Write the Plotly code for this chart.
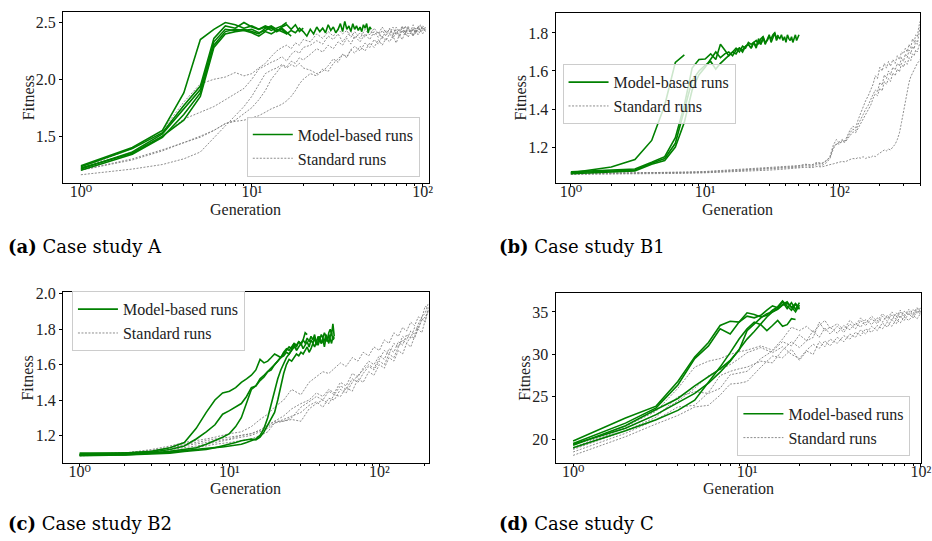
import plotly.graph_objects as go

# ---------------- Case study A ----------------
A_STD_GEN = [1, 2, 3, 4, 5, 6, 7, 8, 9, 10, 11, 12, 13, 14, 15, 16, 17, 18, 19, 20,
             22, 24, 26, 28, 30, 32, 34, 36, 38, 40,
             43, 46, 49, 52, 55, 58, 61, 64, 67, 70, 73, 76, 79, 82, 85, 88, 91, 94, 97, 100, 104]
A_STD = [
    [1.22, 1.39, 1.55, 1.80, 1.96, 2.00, 2.02, 2.06, 2.03, 2.05, 2.10, 2.14, 2.20, 2.25, 2.28, 2.30, 2.27, 2.32, 2.30, 2.35,
     2.33, 2.40, 2.36, 2.42, 2.38, 2.44, 2.40, 2.43, 2.37, 2.42,
     2.36, 2.44, 2.39, 2.45, 2.40, 2.46, 2.41, 2.44, 2.38, 2.46, 2.42, 2.47, 2.40, 2.45, 2.42, 2.48, 2.41, 2.46, 2.43, 2.47, 2.44],
    [1.21, 1.36, 1.50, 1.65, 1.71, 1.76, 1.82, 1.87, 1.92, 2.00, 2.09, 2.12, 2.15, 2.17, 2.20, 2.16, 2.22, 2.25, 2.23, 2.28,
     2.30, 2.34, 2.31, 2.38, 2.35, 2.40, 2.33, 2.38, 2.42, 2.36,
     2.41, 2.37, 2.44, 2.39, 2.42, 2.36, 2.43, 2.40, 2.46, 2.39, 2.44, 2.41, 2.47, 2.40, 2.44, 2.38, 2.45, 2.42, 2.48, 2.43, 2.46],
    [1.20, 1.29, 1.37, 1.44, 1.50, 1.55, 1.61, 1.64, 1.70, 1.75, 1.82, 1.90, 2.00, 2.06, 2.12, 2.10, 2.13, 2.11, 2.14, 2.10,
     2.08, 2.05, 2.07, 2.12, 2.18, 2.15, 2.22, 2.19, 2.26, 2.23,
     2.29, 2.25, 2.32, 2.28, 2.35, 2.30, 2.36, 2.33, 2.38, 2.32, 2.39, 2.35, 2.42, 2.37, 2.41, 2.38, 2.44, 2.39, 2.43, 2.40, 2.45],
    [1.16, 1.21, 1.25, 1.30, 1.36, 1.48, 1.59, 1.68, 1.76, 1.85, 1.95, 2.05, 2.08, 2.10, 2.13, 2.11, 2.16, 2.14, 2.19, 2.17,
     2.22, 2.27, 2.24, 2.30, 2.27, 2.33, 2.30, 2.36, 2.31, 2.38,
     2.33, 2.40, 2.35, 2.42, 2.37, 2.43, 2.38, 2.45, 2.40, 2.44, 2.39, 2.46, 2.41, 2.47, 2.42, 2.45, 2.40, 2.47, 2.43, 2.46, 2.42],
    [1.20, 1.30, 1.38, 1.44, 1.49, 1.55, 1.61, 1.63, 1.64, 1.66, 1.68, 1.71, 1.74, 1.76, 1.78, 1.81, 1.85, 1.90, 1.96, 2.00,
     2.05, 2.03, 2.09, 2.07, 2.14, 2.18, 2.22, 2.20, 2.26, 2.29,
     2.25, 2.32, 2.28, 2.35, 2.31, 2.38, 2.34, 2.40, 2.36, 2.42, 2.37, 2.43, 2.39, 2.45, 2.40, 2.44, 2.41, 2.46, 2.42, 2.45, 2.43],
]
# model-based runs: one value per generation, starting at generation 1
A_MODEL = [
    [1.24, 1.40, 1.55, 1.88, 2.35, 2.44, 2.50, 2.48, 2.45, 2.47, 2.44, 2.46, 2.43, 2.45, 2.47, 2.50],
    [1.23, 1.39, 1.53, 1.77, 1.94, 2.36, 2.47, 2.45, 2.50, 2.46, 2.44, 2.47, 2.45, 2.42, 2.46, 2.48, 2.44, 2.48, 2.42, 2.45],
    [1.21, 1.36, 1.52, 1.74, 1.91, 2.33, 2.44, 2.43, 2.44, 2.42, 2.40, 2.45, 2.47, 2.44, 2.42, 2.40],
    [1.20, 1.34, 1.49, 1.69, 1.88, 2.30, 2.42, 2.44, 2.43, 2.41, 2.38, 2.42, 2.40, 2.43, 2.45, 2.41, 2.38],
    [1.22, 1.35, 1.50, 1.64, 1.85, 2.28, 2.40, 2.42, 2.43, 2.44, 2.41, 2.43, 2.46, 2.42, 2.44, 2.40, 2.43, 2.41, 2.45, 2.42,
     2.38, 2.44, 2.40, 2.46, 2.42, 2.45, 2.41, 2.48, 2.43, 2.46, 2.41, 2.44, 2.49, 2.42, 2.51, 2.44, 2.47, 2.42, 2.49, 2.44,
     2.47, 2.43, 2.46, 2.42, 2.48, 2.45, 2.49, 2.41, 2.46, 2.44],
]

# ---------------- Case study B1 ----------------
B1_STD_GEN = [1, 2, 3, 5, 7, 10, 14, 20, 28, 35, 42, 50, 56, 62, 68, 74, 80, 85, 90, 95,
              100, 105, 110, 115, 120, 126, 132, 138, 144, 150, 157, 164, 171, 178, 185, 192, 200, 208, 216, 224,
              232, 240, 250, 260, 270, 280, 290, 300, 310, 320, 330, 340, 350, 360, 370, 380, 390, 398]
B1_STD = [
    [1.060, 1.062, 1.063, 1.065, 1.066, 1.070, 1.075, 1.080, 1.088, 1.092,
     1.097, 1.100, 1.108, 1.104, 1.115, 1.112, 1.130, 1.145, 1.200, 1.215,
     1.225, 1.240, 1.232, 1.265, 1.290, 1.310, 1.300, 1.345, 1.380, 1.410,
     1.445, 1.470, 1.500, 1.530, 1.575, 1.560, 1.620, 1.600, 1.640, 1.615,
     1.650, 1.625, 1.660, 1.640, 1.680, 1.660, 1.700, 1.690, 1.720, 1.700,
     1.740, 1.720, 1.770, 1.750, 1.790, 1.780, 1.830, 1.860],
    [1.058, 1.060, 1.061, 1.062, 1.064, 1.067, 1.072, 1.078, 1.083, 1.088,
     1.092, 1.095, 1.102, 1.098, 1.108, 1.104, 1.118, 1.140, 1.190, 1.220,
     1.215, 1.235, 1.228, 1.255, 1.275, 1.295, 1.285, 1.320, 1.350, 1.370,
     1.400, 1.420, 1.450, 1.480, 1.500, 1.490, 1.540, 1.525, 1.580, 1.560,
     1.600, 1.580, 1.620, 1.605, 1.640, 1.625, 1.670, 1.650, 1.690, 1.670,
     1.710, 1.690, 1.730, 1.715, 1.760, 1.740, 1.800, 1.830],
    [1.062, 1.063, 1.064, 1.066, 1.068, 1.072, 1.078, 1.085, 1.090, 1.094,
     1.098, 1.103, 1.110, 1.106, 1.120, 1.115, 1.128, 1.150, 1.210, 1.240,
     1.220, 1.230, 1.225, 1.245, 1.265, 1.280, 1.275, 1.300, 1.325, 1.345,
     1.375, 1.400, 1.420, 1.455, 1.480, 1.470, 1.510, 1.495, 1.545, 1.530,
     1.560, 1.545, 1.590, 1.575, 1.610, 1.595, 1.640, 1.620, 1.650, 1.635,
     1.670, 1.655, 1.690, 1.680, 1.710, 1.700, 1.730, 1.750],
    [1.057, 1.058, 1.059, 1.060, 1.062, 1.065, 1.068, 1.072, 1.078, 1.082,
     1.086, 1.090, 1.094, 1.092, 1.098, 1.096, 1.104, 1.108, 1.112, 1.116,
     1.120, 1.125, 1.122, 1.130, 1.135, 1.140, 1.138, 1.145, 1.142, 1.150,
     1.140, 1.148, 1.145, 1.155, 1.150, 1.160, 1.170, 1.175, 1.185, 1.180,
     1.190, 1.185, 1.200, 1.215, 1.240, 1.275, 1.330, 1.390, 1.450, 1.500,
     1.540, 1.570, 1.590, 1.610, 1.620, 1.640, 1.650, 1.660],
]
B1_MODEL = [
    [1.065, 1.095, 1.135, 1.235, 1.420, 1.645, 1.685],
    [1.070, 1.080, 1.085, 1.120, 1.150, 1.250, 1.420, 1.615, 1.660, 1.663, 1.690, 1.660, 1.740, 1.710, 1.680, 1.700, 1.720,
     1.700, 1.730, 1.720, 1.750, 1.740, 1.750, 1.720, 1.770, 1.740, 1.780, 1.740, 1.770, 1.790, 1.750, 1.780, 1.800, 1.760,
     1.780, 1.770, 1.790, 1.760, 1.780, 1.750, 1.790, 1.770, 1.760, 1.780, 1.750, 1.770, 1.790, 1.760, 1.780, 1.790],
    [1.065, 1.075, 1.080, 1.115, 1.140, 1.220, 1.400, 1.550, 1.600, 1.630, 1.650, 1.610, 1.640, 1.660, 1.680, 1.700, 1.690,
     1.720, 1.710, 1.730, 1.740, 1.720, 1.750, 1.760, 1.740, 1.770, 1.780, 1.750, 1.760, 1.780, 1.770, 1.790, 1.800, 1.770,
     1.790],
    [1.060, 1.070, 1.075, 1.110, 1.130, 1.200, 1.330, 1.500, 1.580, 1.620, 1.660, 1.700, 1.670, 1.690, 1.700, 1.680, 1.710,
     1.720, 1.700, 1.730, 1.740, 1.720, 1.750, 1.730, 1.760, 1.740, 1.770, 1.750],
]

# ---------------- Case study B2 ----------------
B2_STD_GEN = [1, 2, 3, 4, 5, 6, 7, 8, 10, 12, 14, 16, 18, 20, 23, 26, 30, 34, 38, 42, 46, 50,
              55, 60, 66, 72, 78, 85, 92, 100, 108, 116, 125, 134, 143, 152, 162, 172, 182, 192, 202, 213]
B2_STD = [
    [1.09, 1.10, 1.12, 1.14, 1.16, 1.17, 1.18, 1.19, 1.21, 1.22, 1.25, 1.29, 1.32, 1.36,
     1.40, 1.46, 1.43, 1.50, 1.53, 1.56, 1.55, 1.58, 1.61, 1.59, 1.64, 1.62, 1.67, 1.65, 1.70, 1.68,
     1.74, 1.72, 1.78, 1.76, 1.81, 1.79, 1.84, 1.82, 1.87, 1.86, 1.93, 1.92],
    [1.09, 1.10, 1.11, 1.13, 1.15, 1.16, 1.17, 1.18, 1.19, 1.20, 1.21, 1.23, 1.26, 1.28,
     1.31, 1.35, 1.38, 1.40, 1.44, 1.42, 1.46, 1.44, 1.50, 1.48, 1.55, 1.53, 1.58, 1.62, 1.60, 1.65,
     1.63, 1.69, 1.67, 1.73, 1.71, 1.77, 1.75, 1.81, 1.80, 1.86, 1.84, 1.93],
    [1.085, 1.095, 1.105, 1.12, 1.13, 1.14, 1.15, 1.16, 1.18, 1.19, 1.20, 1.22, 1.24, 1.27,
     1.29, 1.31, 1.33, 1.37, 1.39, 1.36, 1.41, 1.40, 1.46, 1.44, 1.50, 1.54, 1.57, 1.60, 1.58, 1.63,
     1.68, 1.66, 1.72, 1.70, 1.76, 1.74, 1.79, 1.77, 1.83, 1.87, 1.89, 1.95],
    [1.085, 1.09, 1.10, 1.11, 1.12, 1.13, 1.14, 1.15, 1.16, 1.17, 1.18, 1.20, 1.22, 1.27,
     1.28, 1.29, 1.28, 1.35, 1.38, 1.40, 1.38, 1.43, 1.42, 1.47, 1.45, 1.52, 1.50, 1.56, 1.54, 1.60,
     1.58, 1.64, 1.62, 1.68, 1.66, 1.72, 1.70, 1.76, 1.80, 1.78, 1.85, 1.91],
    [1.09, 1.10, 1.115, 1.13, 1.14, 1.15, 1.16, 1.17, 1.18, 1.20, 1.21, 1.23, 1.25, 1.28,
     1.28, 1.30, 1.36, 1.39, 1.42, 1.40, 1.45, 1.43, 1.48, 1.46, 1.52, 1.50, 1.55, 1.59, 1.57, 1.62,
     1.60, 1.66, 1.64, 1.70, 1.74, 1.72, 1.76, 1.75, 1.81, 1.85, 1.87, 1.90],
]
B2_MODEL = [
    [1.10, 1.10, 1.11, 1.13, 1.16, 1.24, 1.33, 1.40, 1.44, 1.45, 1.47, 1.50, 1.52, 1.54, 1.57, 1.63, 1.61, 1.62, 1.64,
     1.66, 1.65, 1.64, 1.67, 1.69, 1.68, 1.70, 1.72, 1.71, 1.73, 1.72, 1.74, 1.78, 1.77],
    [1.095, 1.10, 1.105, 1.12, 1.14, 1.18, 1.22, 1.26, 1.32, 1.34, 1.36, 1.38, 1.42, 1.47, 1.48, 1.52, 1.54, 1.56, 1.58,
     1.60, 1.62, 1.64, 1.66, 1.68, 1.70, 1.69, 1.72, 1.70, 1.73, 1.71, 1.74, 1.72, 1.75, 1.73, 1.76, 1.74, 1.77, 1.72,
     1.76, 1.74, 1.77, 1.75, 1.78, 1.76, 1.74, 1.78, 1.80, 1.77, 1.83, 1.76],
    [1.09, 1.095, 1.10, 1.11, 1.12, 1.13, 1.15, 1.17, 1.19, 1.21, 1.25, 1.30, 1.38, 1.46, 1.48, 1.51, 1.53, 1.56, 1.57,
     1.60, 1.62, 1.64, 1.65, 1.67, 1.66, 1.69, 1.71, 1.68, 1.70, 1.72, 1.69, 1.71, 1.73, 1.70, 1.74, 1.72, 1.75, 1.71,
     1.73, 1.76, 1.72, 1.74, 1.70, 1.75, 1.73, 1.77, 1.74, 1.72, 1.76, 1.75],
    [1.09, 1.09, 1.095, 1.10, 1.11, 1.115, 1.12, 1.13, 1.14, 1.15, 1.16, 1.17, 1.175, 1.18, 1.175, 1.19, 1.22, 1.26, 1.30,
     1.33, 1.40, 1.48, 1.55, 1.60, 1.63, 1.62, 1.64, 1.66, 1.65, 1.67, 1.66, 1.68, 1.70, 1.67, 1.69, 1.72, 1.70, 1.73,
     1.71, 1.74, 1.72, 1.75, 1.73, 1.77, 1.74, 1.72, 1.76, 1.78, 1.74, 1.75],
    [1.085, 1.09, 1.10, 1.105, 1.115, 1.12, 1.125, 1.13, 1.135, 1.14, 1.145, 1.15, 1.16, 1.17, 1.18, 1.20, 1.24, 1.30,
     1.38, 1.45, 1.52, 1.57, 1.61, 1.64, 1.66, 1.68, 1.70, 1.69],
]

# ---------------- Case study C ----------------
C_STD_GEN = [1, 2, 3, 4, 5, 6, 7, 8, 9, 10, 12, 14, 16, 18, 20, 22, 24, 26, 28, 30,
             33, 36, 39, 42, 45, 48, 52, 56, 60, 64, 68, 72, 76, 80, 85, 90, 95, 100]
C_STD = [
    [19.0, 21.5, 23.3, 26.0, 28.5, 29.2, 29.5, 30.0, 30.3, 30.5, 31.0, 30.5, 31.8, 33.2, 32.8, 33.3, 32.6, 33.4, 34.0, 33.1,
     33.6, 32.9, 34.0, 33.4, 34.3, 33.7, 34.5, 33.9, 34.8, 34.2, 35.0, 34.4, 35.2, 34.6, 35.3, 34.8, 35.5, 35.0],
    [18.8, 21.0, 22.6, 25.0, 25.6, 25.4, 26.0, 27.6, 27.8, 28.0, 29.5, 30.4, 31.5, 31.0, 32.3, 31.6, 32.8, 32.0, 33.1, 32.4,
     33.3, 32.6, 33.6, 33.0, 34.0, 33.4, 34.2, 33.6, 34.5, 33.9, 34.7, 34.1, 35.0, 34.4, 35.1, 34.6, 35.4, 34.9],
    [18.5, 20.7, 22.3, 23.8, 24.0, 25.5, 27.5, 28.0, 28.3, 28.5, 29.2, 29.0, 30.5, 31.5, 30.8, 31.6, 32.0, 33.8, 32.8, 33.2,
     32.5, 33.4, 32.9, 33.7, 33.2, 34.1, 33.5, 34.3, 33.8, 34.6, 34.0, 34.9, 34.3, 35.1, 34.6, 35.3, 34.8, 35.6],
    [18.1, 20.3, 21.8, 22.8, 23.8, 24.0, 25.2, 26.5, 26.6, 26.8, 28.5, 29.8, 29.6, 30.6, 29.3, 30.4, 30.0, 31.5, 30.9, 31.8,
     31.3, 32.2, 31.8, 32.6, 32.2, 33.0, 32.6, 33.4, 33.0, 33.8, 33.3, 34.1, 33.7, 34.4, 34.0, 34.6, 34.2, 34.9],
    [18.9, 21.3, 22.9, 24.5, 26.0, 27.5, 28.2, 28.8, 29.5, 30.2, 30.8, 30.2, 30.9, 30.0, 29.5, 30.5, 31.2, 30.7, 31.6, 31.0,
     32.0, 31.5, 32.4, 32.0, 32.9, 32.4, 33.3, 32.8, 33.7, 33.2, 34.1, 33.6, 34.5, 34.0, 34.8, 34.3, 35.1, 34.7],
]
C_MODEL = [
    [19.8, 22.5, 23.9, 26.8, 29.7, 31.4, 33.4, 33.9, 33.8, 34.9, 34.7, 34.4, 34.6, 35.2, 35.6, 36.3, 35.7, 35.2, 35.9, 35.3],
    [19.5, 21.9, 23.7, 26.4, 29.5, 31.0, 33.0, 32.4, 33.8, 34.5, 34.3, 34.6, 35.2, 35.7, 35.5, 36.2, 35.4, 36.1, 35.3, 36.1],
    [19.3, 21.6, 23.5, 24.8, 26.3, 27.4, 28.3, 29.3, 30.5, 32.8, 33.6, 34.3, 34.8, 35.0, 35.3, 35.8, 36.0, 35.6, 35.0, 35.8],
    [19.0, 21.0, 22.3, 23.4, 24.6, 26.7, 28.5, 30.2, 31.8, 33.0, 33.8, 33.5, 32.8, 33.4, 34.0, 33.3, 33.5, 34.2, 34.1],
    [19.4, 21.3, 22.9, 24.3, 25.4, 26.6, 27.9, 29.2, 30.5, 31.8, 32.7, 33.6, 34.4, 35.0, 35.4, 35.9, 36.2, 35.5, 36.0, 35.4],
]

Y_TICKS = [[1.5, 2.0, 2.5], [1.2, 1.4, 1.6, 1.8], [1.2, 1.4, 1.6, 1.8, 2.0], [20, 25, 30, 35]]
X_TICKS = [1, 10, 100]
X_TICKTEXT = ["10⁰", "10¹", "10²"]
CAPTIONS = [("(a)", "Case study A"), ("(b)", "Case study B1"), ("(c)", "Case study B2"), ("(d)", "Case study C")]
X_TITLE = "Generation"
Y_TITLE = "Fitness"

W, H = 932, 541
# the photographed page comes out ~1% narrower than the figure, so horizontal pixel targets are stretched back
SX = 0.989
SERIF = "Liberation Serif, DejaVu Serif, serif"
CAPFONT = "DejaVu Serif, serif"
GREEN = "#008000"
GRAY = "#808080"
INK = "#222222"


def fx(px):
    return min(px / (W * SX), 1.0)


def fy(py):
    return 1 - py / H


# pixel boxes (left, right, top, bottom) of each panel, measured on the target picture
panels = [
    dict(model=A_MODEL, gen=A_STD_GEN, std=A_STD, box=(63, 429, 5, 178), xr=[-0.105, 2.035], yr=[1.09, 2.593],
         yfmt="{:.1f}", leg=(247, 111), cap=(6, 243), ytx=28, xty=205),
    dict(model=B1_MODEL, gen=B1_STD_GEN, std=B1_STD, box=(556, 921, 6, 178), xr=[-0.114, 2.602], yr=[1.013, 1.905],
         yfmt="{:.1f}", leg=(563, 58), cap=(497, 243), ytx=521, xty=205),
    dict(model=B2_MODEL, gen=B2_STD_GEN, std=B2_STD, box=(63, 429, 289, 462), xr=[-0.111, 2.329], yr=[1.044, 2.009],
         yfmt="{:.1f}", leg=(72, 288), cap=(6, 523), ytx=28, xty=488),
    dict(model=C_MODEL, gen=C_STD_GEN, std=C_STD, box=(556, 922, 290, 462), xr=[-0.101, 2.0], yr=[17.2, 37.2],
         yfmt="{:.0f}", leg=(738, 394), cap=(497, 523), ytx=525, xty=488),
]

MINOR = [m * 10 ** k for k in range(3) for m in range(2, 10)]

fig = go.Figure()
layout = {}
annotations = []
for i, p in enumerate(panels):
    n = "" if i == 0 else str(i + 1)
    xa, ya = "x" + n, "y" + n
    leg = "legend" + n
    for j, run in enumerate(p["std"]):
        fig.add_trace(go.Scatter(
            x=p["gen"], y=run, xaxis=xa, yaxis=ya, mode="lines",
            line=dict(color=GRAY, width=0.9, dash="2px,1.5px"),
            name="Standard runs", legend=leg, legendgroup="std" + n, legendrank=2,
            showlegend=(j == 0)))
    for j, run in enumerate(p["model"]):
        fig.add_trace(go.Scatter(
            x=list(range(1, len(run) + 1)), y=run, xaxis=xa, yaxis=ya, mode="lines",
            line=dict(color=GREEN, width=1.6),
            name="Model-based runs", legend=leg, legendgroup="mod" + n, legendrank=1,
            showlegend=(j == 0)))

    x0, x1, y0, y1 = p["box"]
    axis_common = dict(showline=True, linecolor="black", linewidth=1, mirror=True, showgrid=False,
                       zeroline=False, ticks="outside", ticklen=3, tickcolor="black",
                       tickfont=dict(family=SERIF, size=16, color=INK))
    layout["xaxis" + n] = dict(
        axis_common, type="log", range=p["xr"], domain=[fx(x0), fx(x1)], anchor=ya,
        tickvals=X_TICKS, ticktext=X_TICKTEXT, ticklabelstandoff=-9, ticklabeloverflow="allow",
        minor=dict(ticks="outside", ticklen=2, tickcolor="black", tickvals=MINOR))
    yt = Y_TICKS[i]
    layout["yaxis" + n] = dict(
        axis_common, range=p["yr"], domain=[fy(y1), fy(y0)], anchor=xa,
        tickvals=yt, ticktext=[p["yfmt"].format(v) for v in yt])
    lx, ly = p["leg"]
    layout[leg] = dict(x=fx(lx), y=fy(ly), xanchor="left", yanchor="top",
                       bgcolor="rgba(255,255,255,0.8)", bordercolor="#cccccc", borderwidth=1,
                       font=dict(family=SERIF, size=16, color=INK), traceorder="normal",
                       tracegroupgap=0, itemwidth=40)
    # axis titles as annotations so they sit exactly where the target has them
    annotations.append(dict(text=X_TITLE, x=fx((x0 + x1) / 2), y=fy(p["xty"]), xref="paper", yref="paper",
                            xanchor="center", yanchor="middle", showarrow=False,
                            font=dict(family=SERIF, size=16, color=INK)))
    annotations.append(dict(text=Y_TITLE, x=fx(p["ytx"]), y=fy((y0 + y1) / 2), xref="paper", yref="paper",
                            xanchor="center", yanchor="middle", showarrow=False, textangle=-90,
                            font=dict(family=SERIF, size=16, color=INK)))
    cx, cy = p["cap"]
    tag, label = CAPTIONS[i]
    annotations.append(dict(text="<b>" + tag + "</b> " + label, x=fx(cx), y=fy(cy), xref="paper", yref="paper",
                            xanchor="left", yanchor="middle", showarrow=False,
                            font=dict(family=CAPFONT, size=18, color="black")))

fig.update_layout(width=W, height=H, margin=dict(l=0, r=0, t=0, b=0), plot_bgcolor="white",
                  paper_bgcolor="white", annotations=annotations, **layout)
# the page is photographed at exactly the figure size: drop the default body margin and any scrollbars
fig.write_html("out.html", config={"displayModeBar": False},
               post_script="document.body.style.margin = '0'; document.body.style.overflow = 'hidden';"
                           " document.documentElement.style.overflow = 'hidden';")
